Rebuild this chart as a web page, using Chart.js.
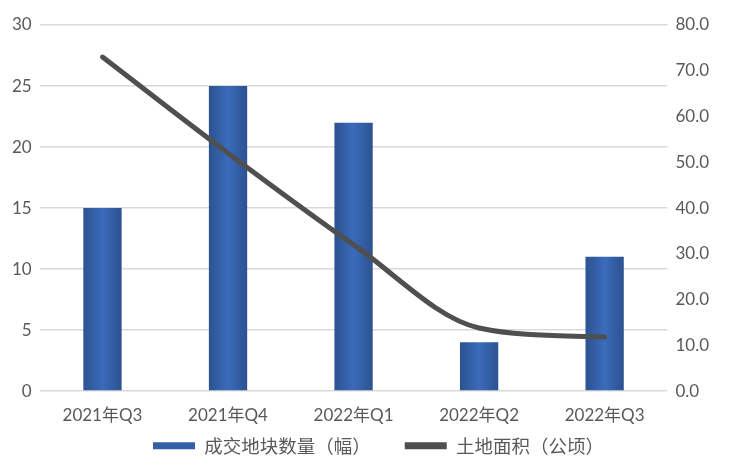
<!DOCTYPE html>
<html>
<head>
<meta charset="utf-8">
<script src="https://cdn.jsdelivr.net/npm/chart.js@4"></script>
<style>
  html, body { margin: 0; padding: 0; background: #fff; }
  #wrap { width: 731px; height: 472px; }
</style>
</head>
<body>
<div id="wrap"><canvas id="myChart"></canvas></div>
<script>
const categories = ["2021年Q3", "2021年Q4", "2022年Q1", "2022年Q2", "2022年Q3"];
const parcelCounts = [15, 25, 22, 4, 11];       // 成交地块数量（幅）
const landArea = [73.0, 52.0, 32.0, 13.8, 11.8]; // 土地面积（公顷）

const barShare = 0.305;

// horizontal gradient per bar: darker edges, lighter middle
function barFill(context) {
  const chart = context.chart;
  const xScale = chart.scales.x;
  if (!xScale || !chart.chartArea) return "#3563a8";
  const cx = xScale.getPixelForValue(context.dataIndex);
  const half = (xScale.width / categories.length) * barShare / 2;
  const g = chart.ctx.createLinearGradient(cx - half, 0, cx + half, 0);
  g.addColorStop(0, "#2c5290");
  g.addColorStop(0.5, "#3b6bbb");
  g.addColorStop(1, "#2c5290");
  return g;
}

// legend keeps wide gaps between items but takes less height
const LEGEND_SHRINK = 26;
const LEGEND_LIFT = 29;
const LEGEND_NUDGE = 18;
const compactLegend = {
  id: "compactLegend",
  beforeLayout(chart) {
    const lg = chart.legend;
    if (!lg || lg._compact) return;
    lg._compact = true;
    const fit = lg.fit.bind(lg);
    lg.fit = function () {
      fit();
      this.height -= LEGEND_SHRINK;
    };
    lg.draw = function () {
      const c = this.ctx;
      c.save();
      c.translate(LEGEND_NUDGE, -LEGEND_LIFT);
      this._draw();
      c.restore();
    };
  },
};

const ctx = document.getElementById("myChart").getContext("2d");

const tickFont = { family: "'Lato', 'Noto Sans CJK SC', sans-serif", size: 17 };

new Chart(ctx, {
  data: {
    labels: categories,
    datasets: [
      {
        type: "line",
        label: "土地面积（公顷）",
        data: landArea,
        yAxisID: "y1",
        borderColor: "#4f4f4f",
        backgroundColor: "#4f4f4f",
        borderWidth: 5,
        borderCapStyle: "round",
        cubicInterpolationMode: "monotone",
        pointRadius: 0,
        order: 0,
      },
      {
        type: "bar",
        label: "成交地块数量（幅）",
        data: parcelCounts,
        yAxisID: "y",
        backgroundColor: barFill,
        barPercentage: 0.61,
        categoryPercentage: 0.5,
        order: 1,
      },
    ],
  },
  plugins: [compactLegend],
  options: {
    responsive: true,
    maintainAspectRatio: false,
    animation: false,
    layout: { padding: { left: 4, right: 14, top: 25, bottom: 4 } },
    plugins: {
      tooltip: { enabled: false },
      legend: {
        position: "bottom",
        reverse: true,
        labels: {
          boxWidth: 42,
          boxHeight: 7,
          padding: 34,
          color: "#595959",
          font: { family: "'Noto Sans CJK SC', sans-serif", size: 18.5 },
          generateLabels: function (chart) {
            const items = Chart.defaults.plugins.legend.labels.generateLabels(chart);
            items.forEach((it) => {
              it.lineWidth = 0;
              it.fillStyle = it.datasetIndex === 1 ? "#3160a8" : "#4f4f4f";
            });
            return items;
          },
        },
      },
    },
    scales: {
      x: {
        grid: { display: false },
        border: { display: false },
        ticks: { color: "#595959", font: tickFont, padding: 6 },
      },
      y: {
        position: "left",
        min: 0,
        max: 30,
        ticks: { stepSize: 5, color: "#595959", font: tickFont, padding: 8 },
        grid: { color: "#d9d9d9", lineWidth: 1.5, drawTicks: false },
        border: { display: false },
      },
      y1: {
        position: "right",
        min: 0,
        max: 80,
        ticks: {
          stepSize: 10,
          color: "#595959",
          font: tickFont,
          padding: 8,
          callback: (v) => Number(v).toFixed(1),
        },
        grid: { display: false, drawTicks: false },
        border: { display: false },
      },
    },
  },
});
</script>
</body>
</html>
